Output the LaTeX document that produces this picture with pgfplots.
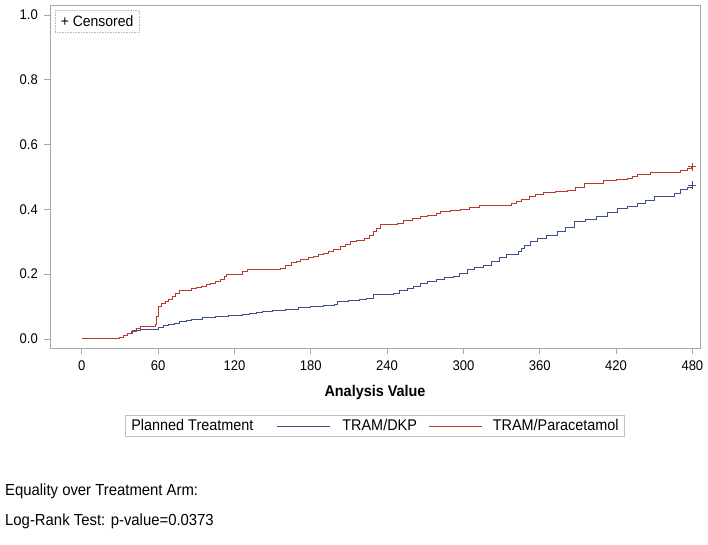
\documentclass[border=0pt]{standalone}
\usepackage{fontspec}
\setmainfont{Liberation Sans}[FakeStretch=0.93]
\usepackage{pgfplots}
\pgfplotsset{compat=1.18}
\definecolor{kmblue}{HTML}{3D4E8E}
\definecolor{kmred}{HTML}{B83A2F}
\definecolor{framec}{HTML}{A6A6A6}
\begin{document}
\begin{tikzpicture}[x=1pt,y=1pt]
\path[use as bounding box] (0,0) rectangle (708,544);
\begin{axis}[
  at={(50pt,196pt)}, anchor=south west,
  scale only axis, width=650pt, height=343pt,
  xmin=-25, xmax=486, ymin=-0.028, ymax=1.031,
  xtick={0,60,120,180,240,300,360,420,480},
  ytick={0,0.2,0.4,0.6,0.8,1},
  yticklabels={0.0,0.2,0.4,0.6,0.8,1.0},
  /pgf/number format/assume math mode=true,
  tick align=outside, major tick length=6pt,
  xtick pos=lower, ytick pos=left,
  axis line style={draw=framec},
  tick style={draw=framec, line width=0.8pt},
  tick label style={font=\fontsize{14}{16}\selectfont, inner sep=0pt},
  xticklabel style={yshift=-7pt},
  yticklabel style={xshift=-6pt},
  xlabel={Analysis Value},
  xlabel style={at={(axis description cs:0.5,-0.13994)}, anchor=base, font=\fontsize{15.5}{18}\selectfont\bfseries, inner sep=0pt},
  legend columns=3,
  legend image code/.code={\draw[#1] (0pt,0pt) -- (53pt,0pt);},
  legend style={at={(axis description cs:0.5,-0.2274)}, anchor=center,
    draw=framec!70, line width=0.6pt, font=\fontsize{15.5}{18}\selectfont,
    inner xsep=6pt, inner ysep=4pt, cells={anchor=west},
    nodes={inner sep=0pt},
    /tikz/column 2/.style={column sep=23pt},
    /tikz/column 3/.style={column sep=12pt},
    /tikz/column 4/.style={column sep=12pt},
    /tikz/column 5/.style={column sep=10pt}},
]
\addlegendimage{empty legend}
\addlegendentry{Planned Treatment}
\addplot[const plot mark left, kmblue, line width=1pt] coordinates {
(0,0) (30,0.005) (33,0.01) (36,0.017) (39,0.023) (43,0.026) (46,0.028)
(60,0.036) (64,0.04) (68,0.044) (73,0.048) (77,0.053) (82,0.057) (86,0.061)
(95,0.065) (105,0.069) (115,0.072) (126,0.074) (132,0.078) (137,0.081) (142,0.084)
(150,0.088) (160,0.092) (170,0.096) (180,0.1) (190,0.103) (199,0.105) (201,0.115)
(210,0.119) (218,0.122) (224,0.126) (229,0.136) (245,0.141) (250,0.148) (256,0.156)
(261,0.163) (266,0.17) (272,0.177) (279,0.184) (285,0.189) (292,0.194) (297,0.203)
(303,0.213) (309,0.22) (316,0.228) (322,0.24) (328,0.252) (334,0.262) (343,0.269)
(346,0.28) (348,0.29) (353,0.3) (358,0.311) (365,0.32) (374,0.331) (380,0.345)
(387,0.362) (396,0.37) (405,0.377) (413,0.39) (421,0.403) (429,0.41) (437,0.419)
(443,0.428) (450,0.439) (460,0.441) (466,0.45) (471,0.46) (476,0.468) (480,0.475)
};
\addlegendentry{TRAM/DKP}
\addplot[const plot mark left, kmred, line width=1pt] coordinates {
(0,0) (30,0.005) (33,0.012) (36,0.018) (40,0.025) (43,0.032) (46,0.038)
(58,0.045) (59,0.07) (60,0.1) (63,0.108) (65.5,0.115) (68,0.122) (71,0.13)
(74,0.14) (77,0.151) (86,0.155) (90,0.158) (94,0.161) (98,0.167) (101,0.172)
(105,0.177) (109,0.185) (112,0.192) (114,0.2) (126,0.208) (130,0.215) (156,0.218)
(160,0.226) (165,0.235) (169,0.24) (172,0.244) (178,0.25) (182,0.255) (186,0.26)
(190,0.264) (194,0.27) (198,0.277) (203,0.285) (207,0.292) (211,0.3) (216,0.305)
(222,0.311) (226,0.32) (229,0.331) (232,0.342) (235,0.352) (248,0.357) (253,0.367)
(260,0.372) (266,0.377) (272,0.382) (279,0.388) (282,0.393) (290,0.397) (298,0.401)
(305,0.405) (313,0.411) (338,0.417) (342,0.424) (346,0.43) (352,0.439) (357,0.445)
(363,0.452) (372,0.455) (382,0.458) (388,0.468) (395,0.48) (410,0.488) (420,0.492)
(429,0.496) (433,0.503) (437,0.509) (447,0.514) (471,0.52) (476,0.527) (479,0.532)
(480,0.532)
};
\addlegendentry{TRAM/Paracetamol}
\addplot[forget plot, only marks, mark=+, mark size=4pt, kmblue, line width=0.9pt] coordinates {(480,0.475)};
\addplot[forget plot, only marks, mark=+, mark size=4pt, kmred, line width=0.9pt] coordinates {(480,0.532)};
\node[draw=framec!80, densely dotted, line width=0.6pt, anchor=north west,
  inner xsep=5.5pt, inner ysep=5.3pt, font=\fontsize{15}{18}\selectfont]
  at (axis description cs:0.0077,0.9854) {+ Censored};
\end{axis}
\node[anchor=base west, inner sep=0pt, font=\fontsize{16}{19}\selectfont] at (5,49) {Equality over Treatment Arm:};
\node[anchor=base west, inner sep=0pt, font=\fontsize{16}{19}\selectfont] at (5,19) {Log-Rank Test: p-value=0.0373};
\end{tikzpicture}
\end{document}
